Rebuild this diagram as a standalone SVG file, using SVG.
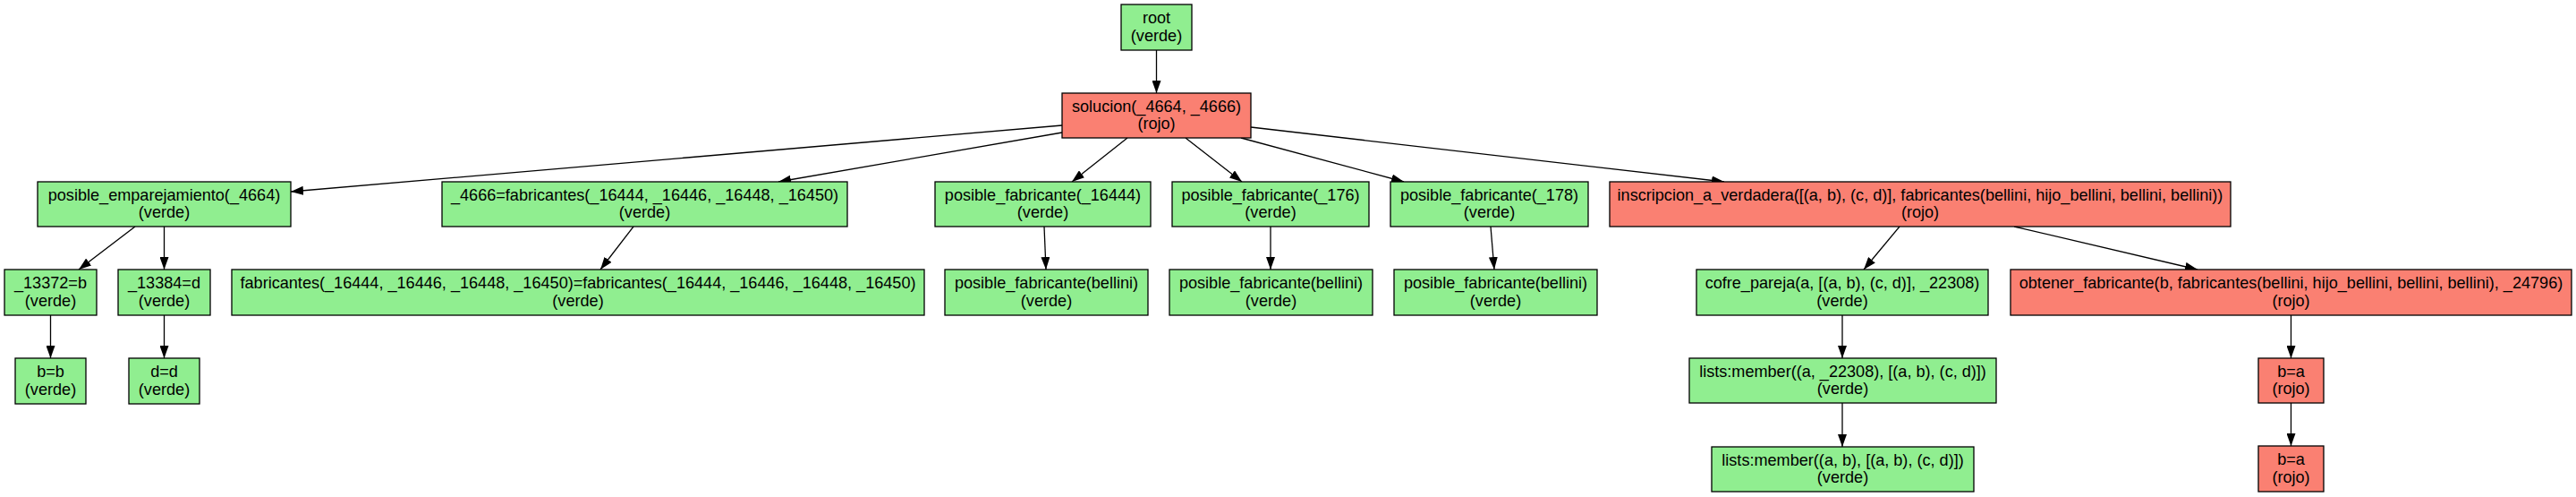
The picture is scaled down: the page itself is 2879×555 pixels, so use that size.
<svg xmlns="http://www.w3.org/2000/svg" width="2879" height="555" viewBox="0 0 2879 555">
<style>
.g{fill:#90EE90;stroke:#000;stroke-width:1.3}
.r{fill:#FA8072;stroke:#000;stroke-width:1.3}
text{font-family:"Liberation Sans",Arial,sans-serif;font-size:18.1px;fill:#000;text-anchor:middle}
.e line{stroke:#000;stroke-width:1.3;marker-end:url(#ah)}
</style>
<defs>
<marker id="ah" viewBox="0 0 14 10" refX="14" refY="5" markerWidth="14" markerHeight="10" markerUnits="userSpaceOnUse" orient="auto">
<path d="M0,0 L14,5 L0,10 z" fill="#000"/>
</marker>
</defs>
<rect width="2879" height="555" fill="#fff"/>
<g class="e" id="edges">
<line x1="1292.5" y1="56" x2="1292.5" y2="104"/>
<line x1="1187" y1="140" x2="325" y2="214"/>
<line x1="1187" y1="148" x2="870" y2="203"/>
<line x1="1260" y1="154" x2="1198" y2="203"/>
<line x1="1325" y1="154" x2="1388" y2="203"/>
<line x1="1387" y1="154" x2="1569" y2="203"/>
<line x1="1398" y1="142" x2="1927" y2="203"/>
<line x1="151" y1="253" x2="88" y2="301"/>
<line x1="183.5" y1="253" x2="183.5" y2="301"/>
<line x1="56.5" y1="352" x2="56.5" y2="400"/>
<line x1="183.5" y1="352" x2="183.5" y2="400"/>
<line x1="708" y1="253" x2="671" y2="301"/>
<line x1="1167" y1="253" x2="1169" y2="301"/>
<line x1="1420" y1="253" x2="1420" y2="301"/>
<line x1="1666" y1="253" x2="1670" y2="301"/>
<line x1="2123" y1="253" x2="2083" y2="301"/>
<line x1="2251" y1="253" x2="2456" y2="301"/>
<line x1="2059" y1="352" x2="2059" y2="400"/>
<line x1="2059" y1="450" x2="2059" y2="499"/>
<line x1="2560.5" y1="352" x2="2560.5" y2="400"/>
<line x1="2560.5" y1="450" x2="2560.5" y2="498"/>
</g>
<g id="root"><rect class="g" x="1253" y="5" width="79" height="51"/><text x="1292.5" y="26">root</text><text x="1292.5" y="45.5">(verde)</text></g>
<g id="solucion"><rect class="r" x="1187" y="104" width="211" height="50"/><text x="1292.5" y="124.7">solucion(_4664, _4666)</text><text x="1292.5" y="144">(rojo)</text></g>
<g id="pe"><rect class="g" x="42" y="203" width="283" height="50"/><text x="183.5" y="223.7">posible_emparejamiento(_4664)</text><text x="183.5" y="243">(verde)</text></g>
<g id="n4666"><rect class="g" x="494" y="203" width="453" height="50"/><text x="720.5" y="223.7">_4666=fabricantes(_16444, _16446, _16448, _16450)</text><text x="720.5" y="243">(verde)</text></g>
<g id="pf16444"><rect class="g" x="1045" y="203" width="241" height="50"/><text x="1165.5" y="223.7">posible_fabricante(_16444)</text><text x="1165.5" y="243">(verde)</text></g>
<g id="pf176"><rect class="g" x="1310" y="203" width="220" height="50"/><text x="1420" y="223.7">posible_fabricante(_176)</text><text x="1420" y="243">(verde)</text></g>
<g id="pf178"><rect class="g" x="1554" y="203" width="221" height="50"/><text x="1664.5" y="223.7">posible_fabricante(_178)</text><text x="1664.5" y="243">(verde)</text></g>
<g id="insc"><rect class="r" x="1799" y="203" width="694" height="50"/><text x="2146" y="223.7">inscripcion_a_verdadera([(a, b), (c, d)], fabricantes(bellini, hijo_bellini, bellini, bellini))</text><text x="2146" y="243">(rojo)</text></g>
<g id="n13372"><rect class="g" x="5" y="301" width="103" height="51"/><text x="56.5" y="322">_13372=b</text><text x="56.5" y="341.5">(verde)</text></g>
<g id="n13384"><rect class="g" x="132" y="301" width="103" height="51"/><text x="183.5" y="322">_13384=d</text><text x="183.5" y="341.5">(verde)</text></g>
<g id="fab"><rect class="g" x="259" y="301" width="774" height="51"/><text x="646" y="322">fabricantes(_16444, _16446, _16448, _16450)=fabricantes(_16444, _16446, _16448, _16450)</text><text x="646" y="341.5">(verde)</text></g>
<g id="bel1"><rect class="g" x="1056" y="301" width="227" height="51"/><text x="1169.5" y="322">posible_fabricante(bellini)</text><text x="1169.5" y="341.5">(verde)</text></g>
<g id="bel2"><rect class="g" x="1307" y="301" width="227" height="51"/><text x="1420.5" y="322">posible_fabricante(bellini)</text><text x="1420.5" y="341.5">(verde)</text></g>
<g id="bel3"><rect class="g" x="1558" y="301" width="227" height="51"/><text x="1671.5" y="322">posible_fabricante(bellini)</text><text x="1671.5" y="341.5">(verde)</text></g>
<g id="cofre"><rect class="g" x="1896" y="301" width="326" height="51"/><text x="2059" y="322">cofre_pareja(a, [(a, b), (c, d)], _22308)</text><text x="2059" y="341.5">(verde)</text></g>
<g id="obtener"><rect class="r" x="2247" y="301" width="627" height="51"/><text x="2560.5" y="322">obtener_fabricante(b, fabricantes(bellini, hijo_bellini, bellini, bellini), _24796)</text><text x="2560.5" y="341.5">(rojo)</text></g>
<g id="bb"><rect class="g" x="17" y="400" width="79" height="51"/><text x="56.5" y="421">b=b</text><text x="56.5" y="440.5">(verde)</text></g>
<g id="dd"><rect class="g" x="144" y="400" width="79" height="51"/><text x="183.5" y="421">d=d</text><text x="183.5" y="440.5">(verde)</text></g>
<g id="lists1"><rect class="g" x="1888" y="400" width="343" height="50"/><text x="2059.5" y="420.7">lists:member((a, _22308), [(a, b), (c, d)])</text><text x="2059.5" y="440">(verde)</text></g>
<g id="ba1"><rect class="r" x="2524" y="400" width="73" height="50"/><text x="2560.5" y="420.7">b=a</text><text x="2560.5" y="440">(rojo)</text></g>
<g id="lists2"><rect class="g" x="1913" y="499" width="293" height="50"/><text x="2059.5" y="519.7">lists:member((a, b), [(a, b), (c, d)])</text><text x="2059.5" y="539">(verde)</text></g>
<g id="ba2"><rect class="r" x="2524" y="498" width="73" height="51"/><text x="2560.5" y="519">b=a</text><text x="2560.5" y="538.5">(rojo)</text></g>
</svg>
